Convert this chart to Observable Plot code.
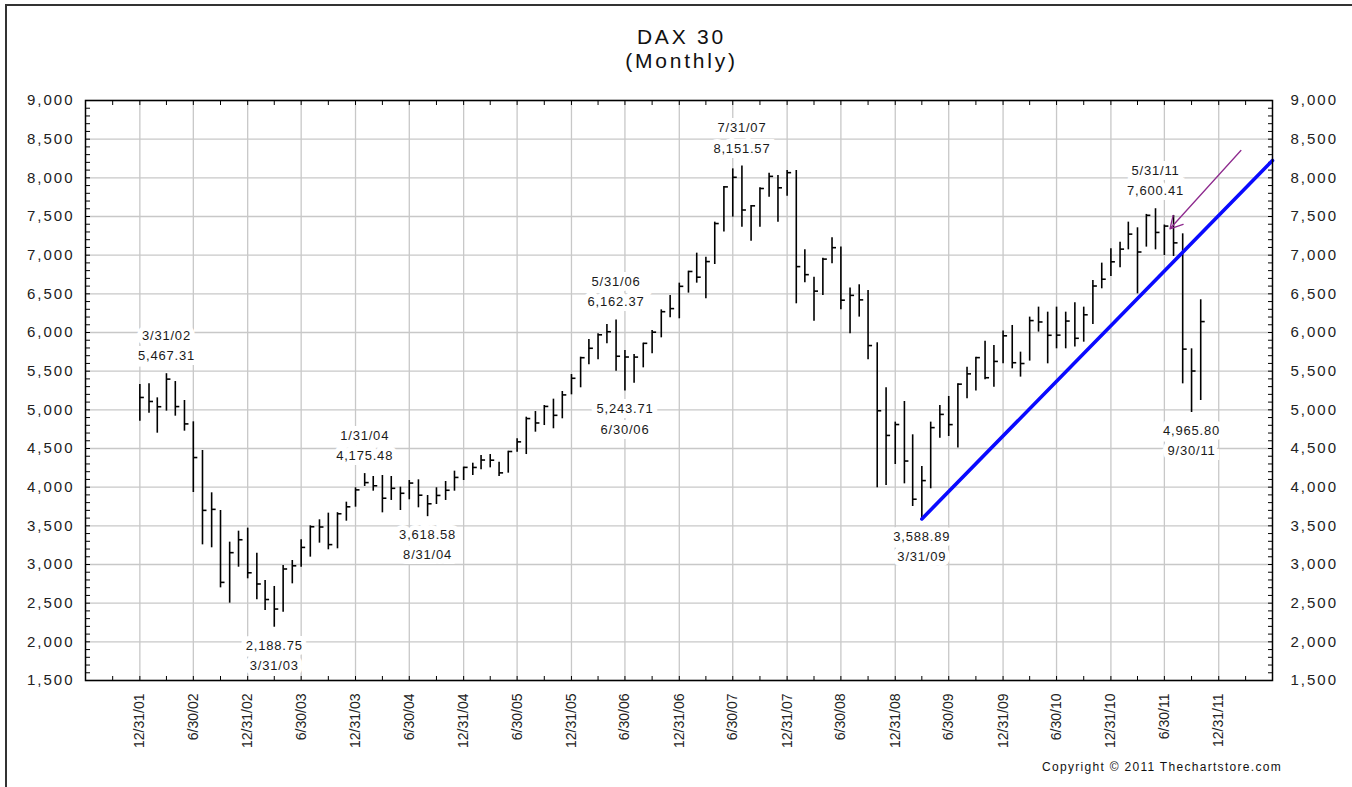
<!DOCTYPE html>
<html>
<head>
<meta charset="utf-8">
<script src="https://cdn.jsdelivr.net/npm/d3@7"></script>
<script src="https://cdn.jsdelivr.net/npm/@observablehq/plot@0.6"></script>
<style>
  body { margin: 0; background: #fff; }
  #wrap { position: relative; width: 1352px; height: 787px; overflow: hidden; font-family: "Liberation Sans", Arial, sans-serif; background: #fff; }
  #chart { position: absolute; left: 0; top: 0; }
  #border { position: absolute; left: 5px; top: 4px; width: 1500px; height: 1000px; border-left: 2px solid #333; border-top: 2px solid #333; pointer-events: none; }
  #title { position: absolute; left: 0; top: 25px; width: 1363px; text-align: center; font-size: 21px; line-height: 24px; letter-spacing: 2.8px; color: #111; }
  #copy { position: absolute; right: 70px; top: 760px; font-size: 12px; line-height: 14px; letter-spacing: 1.3px; color: #111; white-space: nowrap; }
  #chart g[aria-label="y-axis tick label"] text { letter-spacing: 2px; }
  #chart g[aria-label="text"] text { letter-spacing: 0.8px; }
</style>
</head>
<body>
<div id="wrap">
  <div id="chart"></div>
  <div id="title">DAX 30<br>(Monthly)</div>
  <div id="copy">Copyright © 2011 Thechartstore.com</div>
  <div id="border"></div>
</div>
<script>
// Monthly bars, Dec 2001 .. Oct 2011 (month-end)
const firstMonthEnd = "2001-12-31";
const lastMonthEnd = "2011-10-31";

const highs = [
  5328, 5336, 5155, 5467.31, 5366, 5121, 4845, 4474, 3927, 3698, 3289, 3431,
  3470, 3147, 2793, 2716, 2987, 3052, 3319, 3500, 3578, 3664, 3670, 3806,
  3992, 4175.48, 4138, 4151, 4138, 4000, 4086, 4095, 3892, 3992, 4073, 4207,
  4259, 4310, 4409, 4422, 4323, 4465, 4625, 4905, 4978, 5056, 5138, 5237,
  5457, 5681, 5910, 5983, 6104, 6162.37, 5768, 5716, 5862, 6026, 6293, 6479,
  6638, 6793, 7026, 6974, 7427, 7888, 8116, 8151.57, 7642, 7871, 8060, 8030,
  8095, 8095, 7069, 6716, 6961, 7224, 7104, 6574, 6617, 6543, 5867, 5285,
  4841, 5108, 4677, 4268, 4841, 5056, 5173, 5337, 5552, 5681, 5888, 5832,
  6018, 6091, 5746, 6199, 6328, 6263, 6328, 6263, 6384, 6328, 6673, 6897,
  7082, 7168, 7427, 7354, 7527, 7600.41, 7390, 7513, 7276, 5789, 6423
];
const lows = [
  4853, 4957, 4698, 4983, 4918, 4724, 3931, 3254, 3216, 2698, 2500, 2965,
  2815, 2543, 2405, 2188.75, 2384, 2750, 2965, 3095, 3276, 3190, 3203, 3560,
  3741, 4009, 3948, 3668, 3828, 3698, 3837, 3733, 3618.58, 3776, 3828, 3948,
  4086, 4151, 4224, 4250, 4138, 4181, 4452, 4422, 4711, 4797, 4755, 4884,
  5194, 5285, 5582, 5647, 5854, 5500, 5243.71, 5345, 5543, 5724, 5931, 6190,
  6177, 6509, 6638, 6436, 6879, 7298, 7492, 7362, 7181, 7362, 7750, 7427,
  7763, 6371, 6642, 6147, 6479, 6888, 6293, 5983, 6199, 5647, 3992, 4022,
  4293, 4043, 3750, 3588.89, 3979, 4634, 4655, 4505, 5143, 5242, 5388, 5293,
  5595, 5530, 5423, 5630, 6005, 5595, 5789, 5789, 5811, 5875, 6104, 6565,
  6724, 6836, 7069, 6500, 7104, 7069, 6996, 6983, 5336, 4965.80, 5121
];
const closes = [
  5160, 5108, 5040, 5397, 5042, 4818, 4383, 3700, 3713, 2769, 3153, 3320,
  2893, 2748, 2547, 2424, 2942, 2983, 3221, 3488, 3485, 3257, 3656, 3746,
  3965, 4059, 4018, 3857, 3985, 3921, 4053, 3896, 3785, 3893, 3960, 4126,
  4256, 4255, 4351, 4349, 4185, 4461, 4586, 4887, 4830, 5044, 4929, 5193,
  5408, 5674, 5796, 5970, 6010, 5693, 5683, 5682, 5860, 6004, 6269, 6309,
  6597, 6789, 6715, 6917, 7409, 7883, 8007, 7584, 7638, 7862, 8019, 7871,
  8067, 6852, 6748, 6535, 6949, 7097, 6418, 6480, 6422, 5831, 4988, 4669,
  4810, 4338, 3844, 4085, 4770, 4941, 4809, 5332, 5465, 5675, 5415, 5626,
  5957, 5609, 5599, 6154, 6136, 5964, 5966, 6148, 5925, 6229, 6601, 6689,
  6914, 7078, 7272, 7041, 7515, 7294, 7376, 7159, 5785, 5502, 6141
];

// Annotated highs and lows
const peakDates = ["2002-03-31", "2004-01-31", "2006-05-31", "2007-07-31", "2011-05-31"];
const peakValues = [5467.31, 4175.48, 6162.37, 8151.57, 7600.41];
const troughDates = ["2003-03-31", "2004-08-31", "2006-06-30", "2009-03-31", "2011-09-30"];
const troughValues = [2188.75, 3618.58, 5243.71, 3588.89, 4965.80];

// Trend line from the March 2009 low
const trendDates = ["2009-03-31", "2012-06-30"];
const trendValues = [3588.89, 8224];

// Arrow (start → tip)
const arrowDates = ["2012-03-15", "2011-07-19"];
const arrowValues = [8353, 7341];

// Axis
const xDomain = ["2001-06-30", "2012-06-30"];
const yTicks = [1500, 2000, 2500, 3000, 3500, 4000, 4500, 5000, 5500, 6000, 6500, 7000, 7500, 8000, 8500, 9000];

const parse = d3.utcParse("%Y-%m-%d");
const fmtDate = d3.utcFormat("%-m/%-d/%y");
const fmtVal = d3.format(",.2f");

const monthEnds = d3.utcMonth
  .range(d3.utcDay.offset(parse(firstMonthEnd), 1), d3.utcDay.offset(parse(lastMonthEnd), 2))
  .map(d => d3.utcDay.offset(d, -1));
const bars = monthEnds.map((date, i) => ({date, high: highs[i], low: lows[i], close: closes[i]}));

const peaks = peakDates.map((d, i) => ({date: parse(d), value: peakValues[i]}));
const troughs = troughDates.map((d, i) => ({date: parse(d), value: troughValues[i]}));
const trend = trendDates.map((d, i) => ({date: parse(d), value: trendValues[i]}));
const arrow = [{x1: parse(arrowDates[0]), y1: arrowValues[0], x2: parse(arrowDates[1]), y2: arrowValues[1]}];

const quarterTicks = d3.utcMonth.every(3)
  .range(new Date(Date.UTC(2001, 9, 1)), new Date(Date.UTC(2012, 3, 2)))
  .map(d => d3.utcDay.offset(d, -1));
const semiTicks = d3.utcMonth.every(6)
  .range(new Date(Date.UTC(2002, 0, 1)), new Date(Date.UTC(2012, 0, 2)))
  .map(d => d3.utcDay.offset(d, -1));
const yMinor = d3.range(yTicks[0], yTicks[yTicks.length - 1] + 1, 100);

const closeTick = { draw(context) { context.moveTo(0, 0); context.lineTo(4, 0); } };

const labelStyle = { lineAnchor: "middle", lineHeight: 1.55, fontSize: 13, fill: "#1a1a1a", stroke: "white", strokeWidth: 10, paintOrder: "stroke", strokeLinejoin: "miter" };

const chart = Plot.plot({
  width: 1352,
  height: 787,
  marginLeft: 85,
  marginRight: 80,
  marginTop: 100,
  marginBottom: 107,
  style: { fontFamily: "Liberation Sans, Arial, sans-serif", fontSize: "15px", color: "#222", background: "transparent" },
  x: { type: "utc", domain: xDomain.map(parse) },
  y: { domain: [1500, 9000] },
  marks: [
    Plot.gridX(semiTicks, { stroke: "#c8c8c8", strokeOpacity: 1, strokeWidth: 1.3 }),
    Plot.gridY(yTicks, { stroke: "#c8c8c8", strokeOpacity: 1, strokeWidth: 1.3 }),
    Plot.axisY(yTicks, { anchor: "left", tickSize: 0, tickPadding: 11, tickFormat: d3.format(","), fontSize: 15, label: null }),
    Plot.axisY(yTicks, { anchor: "right", tickSize: 0, tickPadding: 18, tickFormat: d3.format(","), fontSize: 15, label: null }),
    Plot.axisY(yMinor, { anchor: "left", tickSize: -5, fill: "none", label: null, stroke: "#000" }),
    Plot.axisY(yMinor, { anchor: "right", tickSize: -5, fill: "none", label: null, stroke: "#000" }),
    Plot.axisX(quarterTicks, { anchor: "bottom", tickSize: -4, fill: "none", label: null, stroke: "#000" }),
    Plot.axisX(quarterTicks, { anchor: "top", tickSize: -4, fill: "none", label: null, stroke: "#000" }),
    Plot.axisX(semiTicks, { anchor: "bottom", tickSize: 0, tickPadding: 13, tickRotate: -90, tickFormat: fmtDate, fontSize: 14, label: null }),
    Plot.ruleX(bars, { x: "date", y1: "low", y2: "high", stroke: "#000", strokeWidth: 1.6 }),
    Plot.dot(bars, { x: "date", y: "close", symbol: closeTick, stroke: "#000", fill: "none", strokeWidth: 1.6 }),
    Plot.line(trend, { x: "date", y: "value", stroke: "#0a0aff", strokeWidth: 3.6 }),
    Plot.arrow(arrow, { x1: "x1", y1: "y1", x2: "x2", y2: "y2", stroke: "#8e2a8e", strokeWidth: 1.3, headLength: 16, headAngle: 58 }),
    Plot.text(peaks, { x: "date", y: "value", text: d => fmtDate(d.date) + "\n" + fmtVal(d.value), dy: -30, ...labelStyle }),
    Plot.text(troughs, { x: "date", y: "value", text: d => fmtVal(d.value) + "\n" + fmtDate(d.date), dy: 26, ...labelStyle }),
    Plot.frame({ stroke: "#000", strokeWidth: 1.5 })
  ]
});
document.getElementById("chart").appendChild(chart);
</script>
</body>
</html>
